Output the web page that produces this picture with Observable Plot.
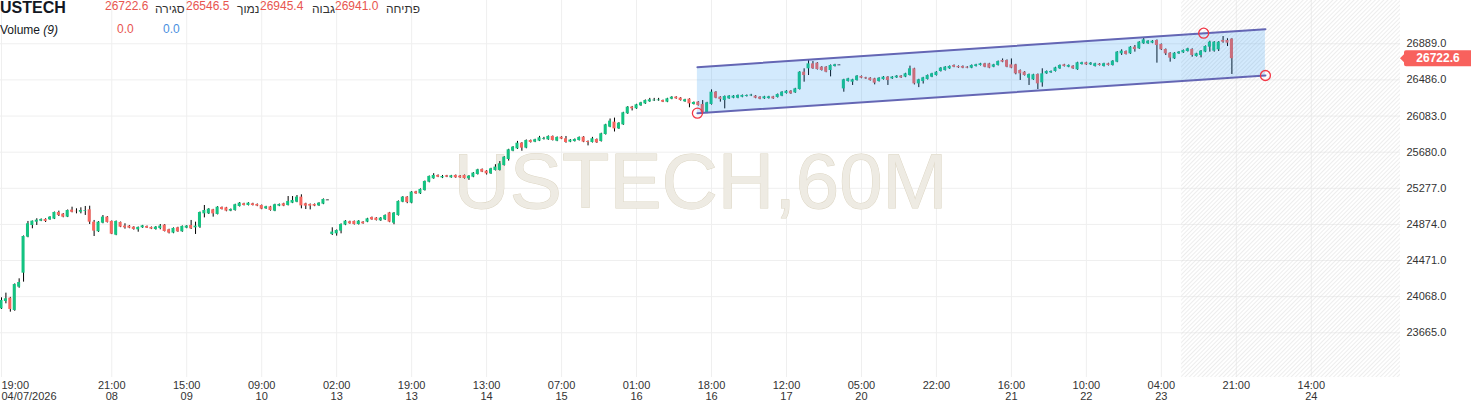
<!DOCTYPE html>
<html><head><meta charset="utf-8">
<script src="https://cdn.jsdelivr.net/npm/d3@7"></script>
<script src="https://cdn.jsdelivr.net/npm/@observablehq/plot@0.6"></script>
<style>
body{margin:0;background:#fff;font-family:"Liberation Sans",Arial,sans-serif;}
#wrap{position:relative;width:1471px;height:405px;overflow:hidden;background:#fff}
#hdr span{position:absolute;white-space:nowrap;line-height:1}
</style></head><body>
<div id="wrap"><div id="chart"></div><div id="hdr"></div></div>
<script>
// ---------- DATA ----------
const symbol = "USTECH";
const watermark = "USTECH,60M";
const headerValues = ["26722.6", "26546.5", "26945.4", "26941.0"];
const headerLabels = ["סגירה", "נמוך", "גבוה", "פתיחה"];
const volumeLabel = "Volume";
const volumeParam = "(9)";
const volumeValues = ["0.0", "0.0"];

const priceTicks = [23665, 24068, 24471, 24874, 25277, 25680, 26083, 26486, 26889];
const timeTickIdx = [0, 25, 42, 59, 76, 93, 110, 127, 144, 161, 178, 195, 212, 229, 246, 263, 280, 297];
const timeTop = ["19:00","21:00","15:00","09:00","02:00","19:00","13:00","07:00","01:00","18:00","12:00","05:00","22:00","16:00","10:00","04:00","21:00","14:00"];
const timeBottom = ["04/07/2026","08","09","10","13","13","14","15","16","16","17","20","","21","22","23","","24"];

const openP = [
23932,24014,24051,23914,24174,24330,24732,24862,24899,24910,
24929,24925,24933,25007,24988,24955,25033,25020,25010,25018,
25037,24899,24792,24888,24955,24907,24754,24896,24855,24855,
24843,24814,24836,24851,24840,24817,24828,24866,24814,24777,
24836,24792,24832,24862,24836,24843,24992,24992,25037,24985,
25063,25059,25022,25029,25074,25104,25085,25104,25096,25085,
25048,25070,25022,25078,25104,25085,25111,25122,25178,25104,
25096,25096,25081,25100,25148,24762,24769,24799,24866,24903,
24907,24873,24899,24899,24951,24944,24914,24925,25003,24888,
24973,25122,25178,25111,25237,25215,25252,25345,25383,25420,
25393,25416,25394,25420,25412,25420,25383,25401,25431,25487,
25468,25438,25476,25476,25531,25598,25691,25717,25780,25725,
25810,25792,25803,25822,25818,25855,25803,25847,25829,25792,
25799,25810,25847,25799,25788,25821,25799,25877,25959,26015,
25940,25985,26108,26182,26164,26197,26219,26242,26253,26254,
26256,26238,26271,26294,26283,26242,26271,26212,26238,26212,
26119,26212,26349,26293,26256,26275,26282,26282,26293,26301,
26308,26305,26293,26275,26278,26297,26290,26305,26334,26360,
26342,26379,26572,26610,26665,26673,26628,26628,26591,26636,
26654,26386,26468,26461,26479,26524,26509,26505,26498,26468,
26490,26517,26498,26509,26528,26517,26535,26610,26442,26468,
26491,26517,26535,26580,26591,26610,26647,26636,26636,26628,
26617,26636,26647,26665,26665,26628,26647,26703,26703,26654,
26654,26591,26572,26505,26487,26546,26453,26554,26565,26580,
26610,26654,26628,26639,26599,26658,26677,26654,26636,26662,
26636,26666,26647,26684,26777,26803,26777,26851,26833,26889,
26889,26896,26926,26881,26825,26784,26721,26777,26788,26803,
26825,26747,26758,26796,26851,26807,26822,26926,26926,26941.0];

const highP = [
24055,24107,24060,24210,24267,24745,24907,24912,24937,24935,
24937,24960,25012,25022,24995,25035,25066,25048,25059,25074,
25077,24918,24905,24973,24962,24912,24912,24900,24881,24862,
24848,24845,24863,24856,24845,24850,24873,24872,24820,24835,
24842,24857,24860,24918,24899,25012,25085,25050,25042,25072,
25068,25064,25046,25099,25118,25110,25116,25110,25102,25090,
25076,25075,25099,25102,25110,25185,25185,25196,25204,25110,
25102,25102,25116,25158,25150,24836,24812,24880,24916,24910,
24912,24916,24905,24942,24956,24950,24950,24980,25008,25006,
25136,25184,25184,25240,25243,25270,25358,25414,25440,25426,
25420,25421,25421,25425,25418,25425,25418,25452,25489,25492,
25474,25500,25540,25575,25630,25712,25742,25800,25786,25816,
25815,25824,25856,25845,25861,25860,25850,25852,25855,25820,
25827,25850,25853,25805,25845,25827,25891,25991,26050,26060,
26009,26125,26188,26190,26214,26236,26262,26280,26280,26280,
26261,26281,26299,26299,26288,26270,26276,26240,26244,26256,
26236,26375,26355,26299,26307,26311,26311,26318,26318,26318,
26325,26311,26299,26303,26303,26303,26329,26355,26366,26366,
26392,26578,26610,26703,26691,26679,26634,26634,26653,26660,
26656,26493,26504,26493,26534,26530,26515,26511,26504,26511,
26523,26523,26523,26534,26534,26560,26640,26616,26493,26515,
26541,26560,26578,26623,26634,26642,26653,26642,26642,26634,
26653,26660,26671,26671,26671,26660,26697,26720,26709,26720,
26660,26597,26578,26552,26549,26552,26610,26586,26586,26627,
26653,26660,26653,26645,26683,26683,26683,26679,26672,26668,
26672,26672,26701,26802,26822,26809,26857,26870,26913,26956,
26924,26924,26932,26887,26831,26790,26790,26802,26820,26839,
26833,26783,26814,26865,26918,26913,26913,26970,26945,26945.4];

const lowP = [
23925,23988,23895,23905,24162,24230,24725,24825,24862,24905,
24895,24920,24928,24962,24948,24950,25003,24992,24992,24974,
24873,24739,24785,24881,24890,24760,24748,24838,24821,24826,
24810,24787,24830,24828,24816,24810,24814,24790,24768,24770,
24786,24786,24826,24817,24762,24830,24947,24985,24955,24980,
25035,25015,25016,25022,25068,25080,25080,25080,25072,25038,
25042,25022,25016,25072,25072,25080,25106,25116,25048,25040,
25036,25072,25075,25094,25146,24750,24743,24769,24860,24876,
24867,24867,24876,24893,24920,24912,24908,24918,24893,24870,
24967,25116,25105,25104,25210,25208,25246,25338,25378,25396,
25385,25396,25389,25389,25389,25380,25365,25395,25425,25452,
25425,25432,25470,25470,25525,25580,25685,25710,25690,25718,
25782,25786,25798,25815,25812,25805,25797,25820,25780,25786,
25793,25804,25786,25750,25782,25778,25793,25871,25953,25905,
25934,25979,26102,26140,26158,26191,26213,26236,26245,26248,
26233,26232,26265,26270,26250,26236,26175,26206,26194,26112,
26110,26205,26276,26238,26163,26269,26276,26276,26287,26295,
26300,26276,26265,26269,26272,26269,26284,26299,26328,26325,
26336,26373,26461,26535,26604,26596,26585,26566,26520,26630,
26652,26349,26462,26424,26473,26499,26492,26473,26431,26462,
26484,26424,26492,26503,26503,26511,26529,26430,26400,26440,
26485,26511,26529,26574,26585,26604,26622,26615,26611,26611,
26611,26630,26641,26622,26611,26622,26641,26678,26622,26611,
26543,26480,26529,26424,26481,26379,26405,26548,26559,26574,
26604,26630,26622,26604,26593,26652,26648,26648,26630,26641,
26630,26641,26641,26678,26759,26764,26771,26796,26827,26883,
26883,26890,26673,26814,26758,26684,26715,26771,26782,26797,
26740,26741,26732,26790,26796,26796,26803,26896,26859,26546.5];

const closeP = [
24025,24044,23925,24203,24226,24739,24881,24910,24921,24929,
24907,24955,25007,24974,24955,25029,25010,25016,25029,25025,
24899,24799,24899,24955,24896,24765,24907,24843,24836,24832,
24818,24840,24858,24832,24821,24843,24855,24795,24777,24829,
24791,24851,24855,24825,24855,25007,25029,25044,24992,25066,
25040,25022,25040,25093,25111,25085,25111,25085,25078,25044,
25070,25029,25093,25096,25078,25130,25141,25178,25081,25078,
25078,25078,25111,25152,25148,24788,24806,24873,24910,24881,
24873,24910,24881,24936,24925,24918,24944,24973,24899,25000,
25130,25178,25118,25234,25215,25264,25353,25409,25420,25401,
25408,25401,25416,25394,25394,25386,25412,25446,25483,25457,
25438,25494,25513,25550,25624,25706,25736,25780,25725,25810,
25788,25818,25840,25830,25855,25810,25844,25825,25788,25814,
25821,25844,25792,25788,25829,25784,25885,25985,26026,25940,
26003,26119,26182,26164,26208,26230,26256,26264,26260,26262,
26238,26275,26293,26275,26256,26264,26219,26234,26200,26119,
26230,26349,26282,26267,26301,26305,26305,26312,26312,26312,
26316,26282,26271,26297,26297,26275,26323,26349,26360,26331,
26386,26572,26535,26665,26610,26602,26591,26572,26647,26654,
26654,26487,26498,26487,26528,26505,26498,26479,26450,26505,
26517,26479,26517,26528,26509,26554,26610,26442,26487,26509,
26535,26554,26572,26617,26628,26636,26628,26621,26617,26617,
26647,26654,26665,26628,26617,26654,26691,26684,26628,26617,
26554,26554,26535,26546,26543,26442,26554,26580,26580,26621,
26647,26636,26647,26610,26677,26677,26654,26673,26666,26647,
26666,26647,26695,26796,26807,26770,26851,26825,26907,26933,
26918,26918,26870,26822,26777,26729,26784,26796,26814,26833,
26759,26777,26807,26859,26907,26907,26907,26907,26896,26722.6];

// parallel channel (bar index, price)
const channelX = [157.8, 286.6];
const channelLower = [26115, 26535];
const channelUpper = [26628, 27052];
const anchorX = [157.8, 272.6, 286.6];
const anchorY = [26115, 27007, 26535];
const hatchStartIdx = 267.6;

// ---------- CHART ----------
const xMin = -0.227, xMax = 317.23;
const yMin = 23166, yMax = 27372;
const up = "#13c381", down = "#f6645e", flat = "#555";
const half = 0.34;

const candles = openP.map((o, i) => ({i, o, h: highP[i], l: lowP[i], c: closeP[i]}));
const bodies = candles.filter(d => d.o !== d.c);
const dojis = candles.filter(d => d.o === d.c);
const channel = channelX.map((x, k) => ({x, lo: channelLower[k], hi: channelUpper[k]}));
const anchors = anchorX.map((x, k) => ({x, y: anchorY[k]}));
const tickLabel = d => { const k = timeTickIdx.indexOf(d); return timeBottom[k] ? timeTop[k] + "\n" + timeBottom[k] : timeTop[k]; };

const plot = Plot.plot({
  width: 1471, height: 405,
  marginTop: 0, marginBottom: 28, marginLeft: 0, marginRight: 71,
  style: {fontFamily: '"Liberation Sans", Arial, sans-serif', fontSize: "11px", color: "#333", background: "transparent", overflow: "hidden"},
  x: {type: "linear", domain: [xMin, xMax], axis: null},
  y: {domain: [yMin, yMax], axis: null},
  marks: [
    Plot.gridY(priceTicks, {stroke: "#efefef", strokeOpacity: 1}),
    Plot.gridX(timeTickIdx, {stroke: "#efefef", strokeOpacity: 1}),
    Plot.rect([0], {x1: hatchStartIdx, x2: xMax, y1: yMin, y2: yMax, fill: "url(#hatch)"}),
    Plot.text([watermark], {frameAnchor: "middle", text: d => d, fontSize: 78, fill: "#eeebe3", stroke: "#ddd6c4", strokeWidth: 1, dy: -6}),
    Plot.ruleX(candles, {x: "i", y1: "l", y2: "h", stroke: "#000", strokeWidth: 1}),
    Plot.rect(bodies, {x1: d => d.i - half, x2: d => d.i + half, y1: "o", y2: "c", fill: d => d.c > d.o ? up : down}),
    Plot.ruleY(dojis, {x1: d => d.i - half, x2: d => d.i + half, y: "c", stroke: flat, strokeWidth: 1}),
    Plot.areaY(channel, {x: "x", y1: "lo", y2: "hi", fill: "#2196f3", fillOpacity: 0.2}),
    Plot.line(channel, {x: "x", y: "hi", stroke: "#6466b4", strokeWidth: 2}),
    Plot.line(channel, {x: "x", y: "lo", stroke: "#6466b4", strokeWidth: 2}),
    Plot.dot(anchors, {x: "x", y: "y", r: 5, stroke: "#f23645", fill: "none", strokeWidth: 1.3}),
    Plot.axisY(priceTicks, {anchor: "right", tickSize: 0, tickPadding: 6, tickFormat: d => d.toFixed(1), fill: "#333"}),
    Plot.axisX(timeTickIdx.slice(1), {anchor: "bottom", tickSize: 0, tickPadding: 4, tickFormat: tickLabel, fill: "#333", lineHeight: 1}),
    Plot.axisX(timeTickIdx.slice(0, 1), {anchor: "bottom", tickSize: 0, tickPadding: 4, tickFormat: tickLabel, fill: "#333", lineHeight: 1, textAnchor: "start", dx: 0})
  ]
});
document.getElementById("chart").appendChild(plot);

// hatch pattern definition
const svg = d3.select(plot);
svg.insert("defs", ":first-child").html(
  '<pattern id="hatch" patternUnits="userSpaceOnUse" width="3" height="3" patternTransform="rotate(45)">' +
  '<line x1="0" y1="0" x2="0" y2="3" stroke="#dcdcdc" stroke-width="1"/></pattern>');

// last price tag on the price axis
const yScale = plot.scale("y");
const lastClose = closeP[closeP.length - 1];
const ty = yScale.apply(lastClose);
const tag = svg.append("g");
tag.append("path")
  .attr("d", `M1400,${ty} L1404,${ty - 4} L1404,${ty - 6} Q1404,${ty - 8} 1406,${ty - 8} L1471,${ty - 8} L1471,${ty + 8} L1406,${ty + 8} Q1404,${ty + 8} 1404,${ty + 6} L1404,${ty + 4} Z`)
  .attr("fill", "#f8615d");
tag.append("text").attr("x", 1438).attr("y", ty).attr("dy", "0.35em")
  .attr("text-anchor", "middle").attr("fill", "#fff").attr("font-weight", "bold")
  .attr("font-size", 12).text(lastClose.toFixed(1));

// header overlay
const hdr = document.getElementById("hdr");
function put(text, left, top, css) {
  const s = document.createElement("span");
  s.textContent = text;
  s.style.left = left + "px"; s.style.top = top + "px";
  Object.assign(s.style, css || {});
  hdr.appendChild(s);
  return s;
}
put(symbol, 0, 0, {fontSize: "16px", fontWeight: "bold", color: "#131722"});
const valLeft = [105, 186, 260, 335], labLeft = [155, 237, 312, 386];
headerValues.forEach((v, k) => put(v, valLeft[k], 0, {fontSize: "12px", color: "#e8554f"}));
headerLabels.forEach((v, k) => put(v, labLeft[k], 2.5, {fontSize: "12px", color: "#333"}));
const vol = put(volumeLabel + " ", 0, 24, {fontSize: "12px", color: "#131722"});
const it = document.createElement("i"); it.textContent = volumeParam; vol.appendChild(it);
put(volumeValues[0], 117, 23, {fontSize: "12px", color: "#e8554f"});
put(volumeValues[1], 163, 23, {fontSize: "12px", color: "#4a8fe0"});
</script>
</body></html>
